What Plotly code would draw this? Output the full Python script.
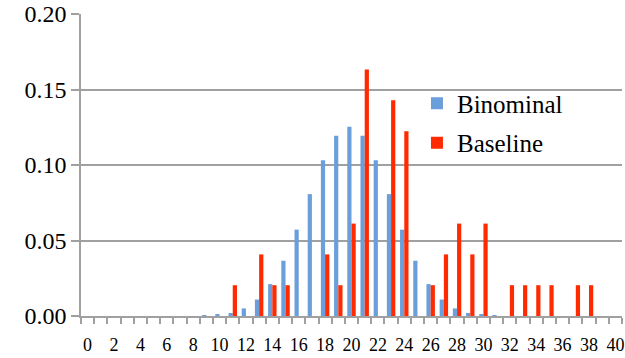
import plotly.graph_objects as go

# x categories 0..40
outcomes = list(range(41))

# Binominal probabilities
binominal = [0, 0, 0, 0, 0, 0, 0, 0, 0, 0.0002,
             0.0008, 0.0020, 0.0050, 0.0109, 0.0211, 0.0366, 0.0572, 0.0807, 0.1031, 0.1194,
             0.1254, 0.1194, 0.1031, 0.0807, 0.0572, 0.0366, 0.0211, 0.0109, 0.0050, 0.0020,
             0.0008, 0.0002, 0, 0, 0, 0, 0, 0, 0, 0, 0]

# Baseline frequencies
baseline = [0, 0, 0, 0, 0, 0, 0, 0, 0, 0,
            0, 0.0204, 0, 0.0408, 0.0204, 0.0204, 0, 0, 0.0408, 0.0204,
            0.0612, 0.1633, 0, 0.1429, 0.1224, 0, 0.0204, 0.0408, 0.0612, 0.0408,
            0.0612, 0, 0.0204, 0.0204, 0.0204, 0.0204, 0, 0.0204, 0.0204, 0, 0]

x_ticks = list(range(0, 41, 2))
y_ticks = [0, 0.05, 0.10, 0.15, 0.20]

SERIF = "'Liberation Serif', 'DejaVu Serif', serif"

fig = go.Figure()
fig.add_trace(go.Bar(x=outcomes, y=binominal, name="Binominal",
                     marker=dict(color="#6A9FDB", line=dict(width=0)), legendgroup="a"))
fig.add_trace(go.Bar(x=outcomes, y=baseline, name="Baseline",
                     marker=dict(color="#FF2A00", line=dict(width=0)), legendgroup="b"))

fig.update_layout(
    width=625, height=358,
    margin=dict(l=81, r=3, t=14, b=42),
    paper_bgcolor="white", plot_bgcolor="white",
    barmode="group", bargap=0.36, bargroupgap=0,
    font=dict(family=SERIF, color="black"),
    legend=dict(x=0.621, y=0.78, xanchor="left", yanchor="top",
                font=dict(family=SERIF, size=25), bgcolor="rgba(0,0,0,0)",
                traceorder="grouped", tracegroupgap=4, itemwidth=30),
    showlegend=True,
)
fig.update_xaxes(
    range=[-0.5, 40.5], tickmode="array", tickvals=x_ticks,
    ticks="", tickfont=dict(family=SERIF, size=18), automargin=False,
    ticklabelstandoff=12,
    showline=True, linecolor="#A0A0A0", linewidth=1.5,
    showgrid=False, zeroline=False,
    minor=dict(tickmode="linear", tick0=-0.5, dtick=1, ticks="outside",
               ticklen=6, tickcolor="#A0A0A0", tickwidth=1.5, showgrid=False),
)
fig.update_yaxes(
    range=[0, 0.2], tickmode="array", tickvals=y_ticks, tickformat=".2f",
    tickfont=dict(family=SERIF, size=24), automargin=False,
    ticksuffix="\u2002",  # pushes the labels away from the axis like the original
    ticks="outside", ticklen=8, tickcolor="#A0A0A0", tickwidth=1.5,
    showline=True, linecolor="#A0A0A0", linewidth=1.5,
    showgrid=True, gridcolor="#A0A0A0", gridwidth=1.5, zeroline=False,
)

# drop the default 8px body margin so the figure sits at the page corner
fig.write_html("out.html", config={"displayModeBar": False},
               post_script="document.body.style.margin='0';")
